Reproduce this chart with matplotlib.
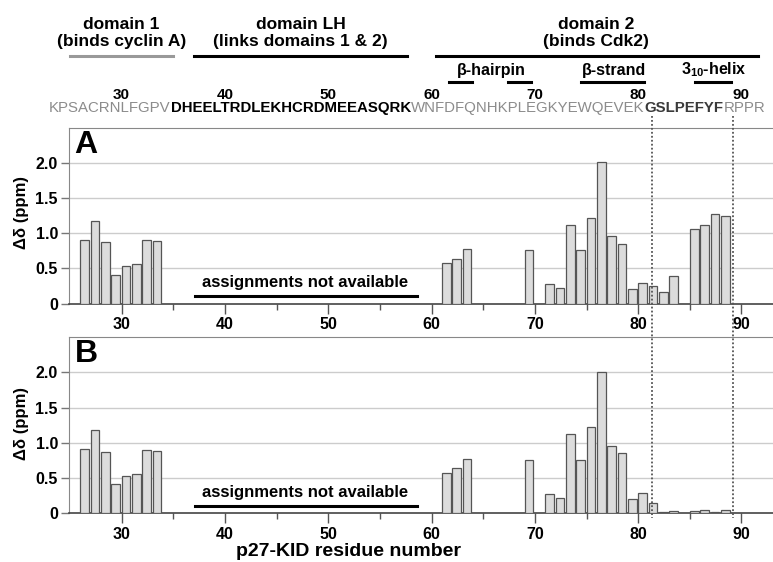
import numpy as np
import matplotlib
matplotlib.use("Agg")
import matplotlib.pyplot as plt
from matplotlib.lines import Line2D
from matplotlib.transforms import blended_transform_factory

plt.rcParams['font.family'] = ['Liberation Sans', 'DejaVu Sans']
plt.rcParams['font.weight'] = 'bold'
plt.rcParams['mathtext.fontset'] = 'custom'
plt.rcParams['mathtext.rm'] = 'Liberation Sans:bold'
plt.rcParams['mathtext.bf'] = 'Liberation Sans:bold'

# residuos com deslocamento medido
residuos = [26, 27, 28, 29, 30, 31, 32, 33,
            61, 62, 63, 69,
            71, 72, 73, 74, 75, 76, 77, 78, 79, 80, 81, 82, 83,
            85, 86, 87, 88]
delta_a = [0.91, 1.18, 0.87, 0.41, 0.53, 0.56, 0.90, 0.89,
           0.57, 0.64, 0.77, 0.76,
           0.28, 0.22, 1.12, 0.76, 1.22, 2.01, 0.96, 0.85, 0.21, 0.29, 0.25, 0.16, 0.39,
           1.06, 1.12, 1.28, 1.24]
delta_b = [0.91, 1.18, 0.87, 0.41, 0.53, 0.56, 0.90, 0.89,
           0.57, 0.64, 0.77, 0.76,
           0.28, 0.22, 1.12, 0.76, 1.22, 2.01, 0.96, 0.85, 0.21, 0.29, 0.15, 0.015, 0.03,
           0.03, 0.04, 0.015, 0.05]

# sequencia (primeiro residuo = 24), em blocos com estilo
seq_blocos = [("KPSACRNLFGPV", "#8c8c8c", "normal"),
              ("DHEELTRDLEKHCRDMEEASQRK", "black", "bold"),
              ("WNFDFQNHKPLEGKYEWQEVEK", "#8c8c8c", "normal"),
              ("GSLPEFYF", "#3a3a3a", "bold"),
              ("RPPR", "#8c8c8c", "normal")]
seq_numeros = [30, 40, 50, 60, 70, 80, 90]

# dominios: (texto, centro, inicio, fim, cor)
dominios = [("domain 1\n(binds cyclin A)", 30.0, 25.0, 35.0, "#999999"),
            ("domain LH\n(links domains 1 & 2)", 47.3, 37.0, 57.6, "black"),
            ("domain 2\n(binds Cdk2)", 75.9, 60.4, 91.6, "black")]
estruturas = [("β-hairpin", 65.8, [(61.7, 63.9), (67.4, 69.6)]),
              ("β-strand", 77.7, [(74.5, 80.6)]),
              (r"3$_{\mathbf{10}}$-helix", 87.3, [(85.5, 89.0)])]
linhas_pontilhadas = [81.3, 89.2]

W, H = 773, 562
fig = plt.figure(figsize=(W / 100, H / 100), dpi=100)

def fy(px):
    return 1 - px / H

axA = fig.add_axes([69 / W, fy(303.5), 704 / W, 175.5 / H])
axB = fig.add_axes([69 / W, fy(513.3), 704 / W, 176 / H])

for ax, vals, letra in [(axA, delta_a, "A"), (axB, delta_b, "B")]:
    ax.bar(residuos, vals, width=0.85, align='edge', color='#dcdcdc',
           edgecolor='#555555', linewidth=0.9, zorder=3)
    for g in [0.5, 1.0, 1.5, 2.0]:
        ax.axhline(g, color='#cccccc', lw=1.0, zorder=1)
    ax.set_xlim(24.9, 93.05)
    ax.set_ylim(0, 2.5)
    ax.set_xticks([30, 40, 50, 60, 70, 80, 90])
    ax.set_xticks([35, 45, 55, 65, 75, 85], minor=True)
    ax.set_yticks([0, 0.5, 1.0, 1.5, 2.0])
    ax.set_yticklabels(["0", "0.5", "1.0", "1.5", "2.0"])
    ax.tick_params(axis='x', which='major', length=7, width=1, color='#555555',
                   labelsize=11.5, pad=3)
    ax.tick_params(axis='x', which='minor', length=4, width=1, color='#555555')
    ax.tick_params(axis='y', length=6, width=1, color='#777777', labelsize=11.5, pad=2)
    ax.spines['right'].set_visible(False)
    ax.spines['top'].set_color('#888888')
    ax.spines['left'].set_color('#888888')
    ax.spines['bottom'].set_color('#444444')
    ax.spines['bottom'].set_linewidth(1.2)
    ax.text(0.008, 0.99, letra, transform=ax.transAxes, fontsize=23,
            fontweight='bold', va='top', ha='left')
    ax.plot([37.1, 58.6], [0.11, 0.11], color='black', lw=2.2, zorder=4)
    ax.text(47.8, 0.30, "assignments not available", fontsize=12,
            ha='center', va='center', zorder=4)

fig.text(22 / W, fy(213), "Δδ (ppm)", rotation=90, ha='center', va='center',
         fontsize=12, fontweight='bold')
fig.text(22 / W, fy(423), "Δδ (ppm)", rotation=90, ha='center', va='center',
         fontsize=12, fontweight='bold')
fig.text(348 / W, fy(552), "p27-KID residue number", ha='center', va='center',
         fontsize=14, fontweight='bold')

T = blended_transform_factory(axA.transData, fig.transFigure)

# dominios
for texto, centro, x0, x1, cor in dominios:
    fig.text(centro, fy(33), texto, transform=T, ha='center', va='center',
             fontsize=12.5, fontweight='bold', linespacing=1.15)
    fig.add_artist(Line2D([x0, x1], [fy(56), fy(56)], transform=T,
                          color=cor, lw=2.2))

for texto, centro, segs in estruturas:
    fig.text(centro, fy(70), texto, transform=T, ha='center', va='center',
             fontsize=11.5, fontweight='bold')
    for x0, x1 in segs:
        fig.add_artist(Line2D([x0, x1], [fy(81.7), fy(81.7)], transform=T,
                              color='black', lw=2.2))

# sequencia como texto corrido, bloco apos bloco
renderer = fig.canvas.get_renderer()
x_px = 49
for letras, cor, peso in seq_blocos:
    t = fig.text(x_px / W, fy(108), letras, ha='left', va='center',
                 fontsize=10.8, color=cor, fontweight=peso)
    x_px = t.get_window_extent(renderer).x1
for n in seq_numeros:
    fig.text(n, fy(95), str(n), transform=T, ha='center', va='center',
             fontsize=11, fontweight='bold')

for x in linhas_pontilhadas:
    fig.add_artist(Line2D([x, x], [fy(116), fy(518)], transform=T,
                          color='#555555', lw=1.3, linestyle=(0, (1, 1.2))))

fig.savefig("out.png", dpi=100)
